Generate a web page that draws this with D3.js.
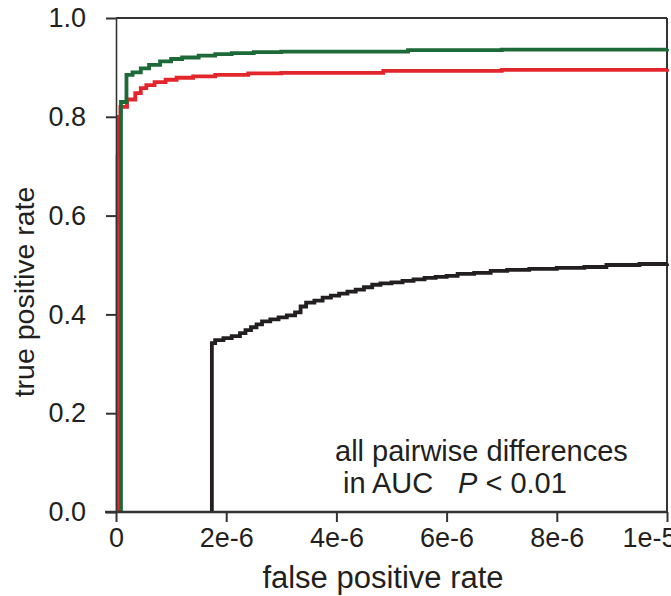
<!DOCTYPE html>
<html><head><meta charset="utf-8">
<script src="https://cdn.jsdelivr.net/npm/d3@7"></script>
<style>
html,body{margin:0;padding:0;background:#fff;}
svg{display:block;font-family:"Liberation Sans",Arial,sans-serif;}
</style></head>
<body>
<svg id="chart" width="671" height="596"></svg>
<script>
// false positive rate in units of 1e-6, true positive rate
const xTicks = [0, 2, 4, 6, 8, 10];
const xTickLabels = ["0", "2e-6", "4e-6", "6e-6", "8e-6", "1e-5"];
const yTicks = [0, 0.2, 0.4, 0.6, 0.8, 1.0];
const yTickLabels = ["0.0", "0.2", "0.4", "0.6", "0.8", "1.0"];

const redFpr = [0.03, 0.03, 0.05, 0.08, 0.20, 0.35, 0.45, 0.55, 0.70, 0.90, 1.10, 1.40, 1.80, 2.40, 3.00, 4.80, 4.85, 7.00, 10.0];
const redTpr = [0.00, 0.72, 0.80, 0.82, 0.835, 0.848, 0.858, 0.864, 0.870, 0.875, 0.879, 0.882, 0.885, 0.888, 0.889, 0.889, 0.893, 0.895, 0.897];

const greenFpr = [0.09, 0.09, 0.19, 0.19, 0.30, 0.45, 0.60, 0.80, 1.00, 1.20, 1.50, 1.80, 2.10, 2.50, 3.00, 4.00, 5.20, 5.30, 7.00, 10.0];
const greenTpr = [0.00, 0.83, 0.83, 0.885, 0.890, 0.898, 0.905, 0.912, 0.917, 0.920, 0.924, 0.927, 0.929, 0.931, 0.932, 0.932, 0.932, 0.935, 0.936, 0.937];

const blackFpr = [1.74, 1.74, 1.80, 1.95, 2.10, 2.25, 2.35, 2.45, 2.55, 2.65, 2.80, 2.95, 3.10, 3.25, 3.35, 3.45, 3.60, 3.75, 3.90, 4.05, 4.20, 4.35, 4.50, 4.65, 4.80, 5.00, 5.20, 5.40, 5.60, 5.80, 6.00, 6.20, 6.50, 6.80, 7.10, 7.50, 8.00, 8.50, 8.90, 9.50, 10.0];
const blackTpr = [0.000, 0.342, 0.348, 0.352, 0.356, 0.362, 0.368, 0.374, 0.380, 0.386, 0.390, 0.394, 0.398, 0.404, 0.416, 0.424, 0.428, 0.434, 0.438, 0.442, 0.446, 0.450, 0.455, 0.460, 0.463, 0.465, 0.468, 0.471, 0.474, 0.476, 0.478, 0.482, 0.484, 0.488, 0.490, 0.492, 0.494, 0.496, 0.500, 0.502, 0.503];

const seriesNames = ["black", "red", "green"];
const seriesColors = ["#231f20", "#e3262b", "#1c6a38"];

const svg = d3.select("#chart");
const x = d3.scaleLinear().domain([0, 10]).range([116, 667]);
const y = d3.scaleLinear().domain([0, 1]).range([512, 18]);

const axisColor = "#333";
const textColor = "#231f20";

// frame: top and right
svg.append("line").attr("x1", x(0)).attr("x2", x(10)).attr("y1", y(1)).attr("y2", y(1))
  .attr("stroke", axisColor).attr("stroke-width", 2);
svg.append("line").attr("x1", x(10)).attr("x2", x(10)).attr("y1", y(1)).attr("y2", y(0))
  .attr("stroke", axisColor).attr("stroke-width", 2);

// curves
const line = d3.line().x(d => x(d[0])).y(d => y(d[1])).curve(d3.curveStepAfter);
const allSeries = [
  blackFpr.map((v, i) => [v, blackTpr[i]]),
  redFpr.map((v, i) => [v, redTpr[i]]),
  greenFpr.map((v, i) => [v, greenTpr[i]])
];
allSeries.forEach((s, i) => {
  svg.append("path").attr("d", line(s)).attr("fill", "none")
    .attr("stroke", seriesColors[i]).attr("stroke-width", 3.8)
    .attr("stroke-linejoin", "miter").attr("class", "series-" + seriesNames[i]);
});

// axes
const xAxis = d3.axisBottom(x).tickValues(xTicks).tickFormat((d, i) => xTickLabels[i])
  .tickSize(10).tickPadding(6).tickSizeOuter(0);
const gx = svg.append("g").attr("transform", `translate(0,${y(0)})`).call(xAxis);
gx.select(".domain").attr("d", `M${x(0) - 11},0H${x(10)}`).attr("stroke", axisColor).attr("stroke-width", 2.6);
gx.selectAll(".tick line").attr("stroke", axisColor).attr("stroke-width", 2);
gx.selectAll(".tick text").attr("font-size", 27).attr("fill", textColor)
  .attr("font-family", "Liberation Sans, Arial, sans-serif");
// last label sits slightly left, clipped at the picture edge as in the original
gx.selectAll(".tick text").filter((d, i) => i === xTicks.length - 1).attr("dx", -18);

const yAxis = d3.axisLeft(y).tickValues(yTicks).tickFormat((d, i) => yTickLabels[i])
  .tickSize(10).tickPadding(20).tickSizeOuter(0);
const gy = svg.append("g").attr("transform", `translate(${x(0)},0)`).call(yAxis);
gy.select(".domain").attr("stroke", axisColor).attr("stroke-width", 1.6);
gy.selectAll(".tick line").attr("stroke", axisColor).attr("stroke-width", 2);
gy.selectAll(".tick text").attr("font-size", 27).attr("fill", textColor)
  .attr("font-family", "Liberation Sans, Arial, sans-serif");

// axis titles
svg.append("text").attr("x", 383).attr("y", 588).attr("text-anchor", "middle")
  .attr("font-size", 31).attr("fill", textColor).text("false positive rate");
svg.append("text").attr("transform", "translate(34,292) rotate(-90)").attr("text-anchor", "middle")
  .attr("font-size", 28.5).attr("fill", textColor).text("true positive rate");

// annotation
svg.append("text").attr("x", 335).attr("y", 461).attr("font-size", 29).attr("fill", textColor)
  .text("all pairwise differences");
const t2 = svg.append("text").attr("y", 493).attr("font-size", 29).attr("fill", textColor);
t2.append("tspan").attr("x", 343).text("in AUC");
t2.append("tspan").attr("x", 458).attr("font-style", "italic").text("P");
t2.append("tspan").text(" < 0.01");
</script>
</body></html>
